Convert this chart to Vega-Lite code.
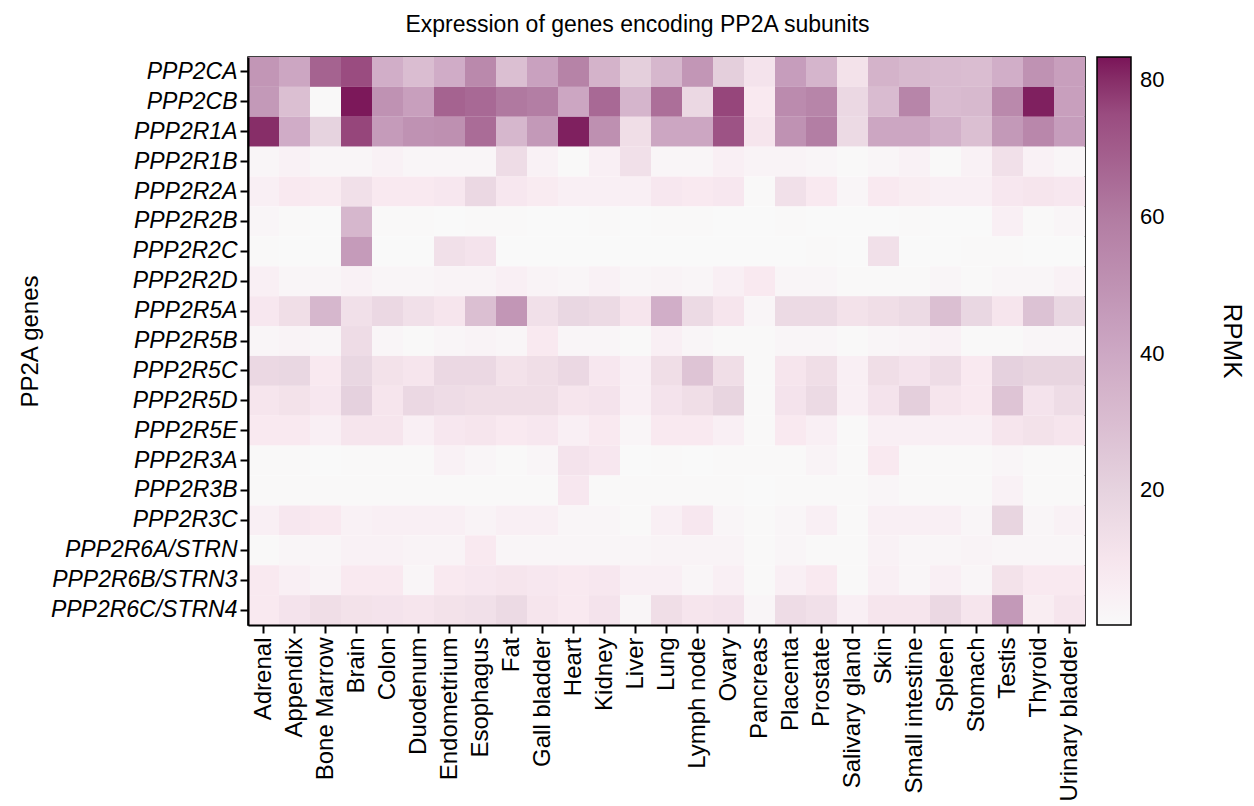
{
"$schema": "https://vega.github.io/schema/vega-lite/v6.json",
"autosize": {"type": "none"},
"padding": {"left": 248, "top": 57, "right": 169, "bottom": 181},
"width": 837,
"height": 568,
"title": {"text": "Expression of genes encoding PP2A subunits", "fontSize": 23, "fontWeight": "normal", "font": "Liberation Sans", "color": "black", "baseline": "alphabetic", "offset": 25, "dx": -29, "dy": 23},
"config": {"font": "Liberation Sans", "view": {"stroke": "black", "strokeWidth": 1.5}},
"data": {"values": [
{"gene":"PPP2CA","tissue":"Adrenal","rpmk":48},{"gene":"PPP2CA","tissue":"Appendix","rpmk":41},{"gene":"PPP2CA","tissue":"Bone Marrow","rpmk":68},{"gene":"PPP2CA","tissue":"Brain","rpmk":75},{"gene":"PPP2CA","tissue":"Colon","rpmk":37},{"gene":"PPP2CA","tissue":"Duodenum","rpmk":30},{"gene":"PPP2CA","tissue":"Endometrium","rpmk":38},{"gene":"PPP2CA","tissue":"Esophagus","rpmk":54},{"gene":"PPP2CA","tissue":"Fat","rpmk":29},{"gene":"PPP2CA","tissue":"Gall bladder","rpmk":43},{"gene":"PPP2CA","tissue":"Heart","rpmk":57},{"gene":"PPP2CA","tissue":"Kidney","rpmk":35},{"gene":"PPP2CA","tissue":"Liver","rpmk":22},{"gene":"PPP2CA","tissue":"Lung","rpmk":33},{"gene":"PPP2CA","tissue":"Lymph node","rpmk":48},{"gene":"PPP2CA","tissue":"Ovary","rpmk":22},{"gene":"PPP2CA","tissue":"Pancreas","rpmk":11},{"gene":"PPP2CA","tissue":"Placenta","rpmk":45},{"gene":"PPP2CA","tissue":"Prostate","rpmk":34},{"gene":"PPP2CA","tissue":"Salivary gland","rpmk":12},{"gene":"PPP2CA","tissue":"Skin","rpmk":35},{"gene":"PPP2CA","tissue":"Small intestine","rpmk":32},{"gene":"PPP2CA","tissue":"Spleen","rpmk":31},{"gene":"PPP2CA","tissue":"Stomach","rpmk":30},{"gene":"PPP2CA","tissue":"Testis","rpmk":37},{"gene":"PPP2CA","tissue":"Thyroid","rpmk":50},{"gene":"PPP2CA","tissue":"Urinary bladder","rpmk":44},
{"gene":"PPP2CB","tissue":"Adrenal","rpmk":47},{"gene":"PPP2CB","tissue":"Appendix","rpmk":29},{"gene":"PPP2CB","tissue":"Bone Marrow","rpmk":1},{"gene":"PPP2CB","tissue":"Brain","rpmk":83},{"gene":"PPP2CB","tissue":"Colon","rpmk":50},{"gene":"PPP2CB","tissue":"Duodenum","rpmk":44},{"gene":"PPP2CB","tissue":"Endometrium","rpmk":68},{"gene":"PPP2CB","tissue":"Esophagus","rpmk":66},{"gene":"PPP2CB","tissue":"Fat","rpmk":61},{"gene":"PPP2CB","tissue":"Gall bladder","rpmk":59},{"gene":"PPP2CB","tissue":"Heart","rpmk":41},{"gene":"PPP2CB","tissue":"Kidney","rpmk":66},{"gene":"PPP2CB","tissue":"Liver","rpmk":34},{"gene":"PPP2CB","tissue":"Lung","rpmk":64},{"gene":"PPP2CB","tissue":"Lymph node","rpmk":17},{"gene":"PPP2CB","tissue":"Ovary","rpmk":76},{"gene":"PPP2CB","tissue":"Pancreas","rpmk":8},{"gene":"PPP2CB","tissue":"Placenta","rpmk":53},{"gene":"PPP2CB","tissue":"Prostate","rpmk":56},{"gene":"PPP2CB","tissue":"Salivary gland","rpmk":17},{"gene":"PPP2CB","tissue":"Skin","rpmk":31},{"gene":"PPP2CB","tissue":"Small intestine","rpmk":56},{"gene":"PPP2CB","tissue":"Spleen","rpmk":31},{"gene":"PPP2CB","tissue":"Stomach","rpmk":32},{"gene":"PPP2CB","tissue":"Testis","rpmk":54},{"gene":"PPP2CB","tissue":"Thyroid","rpmk":82},{"gene":"PPP2CB","tissue":"Urinary bladder","rpmk":44},
{"gene":"PPP2R1A","tissue":"Adrenal","rpmk":80},{"gene":"PPP2R1A","tissue":"Appendix","rpmk":38},{"gene":"PPP2R1A","tissue":"Bone Marrow","rpmk":20},{"gene":"PPP2R1A","tissue":"Brain","rpmk":76},{"gene":"PPP2R1A","tissue":"Colon","rpmk":46},{"gene":"PPP2R1A","tissue":"Duodenum","rpmk":50},{"gene":"PPP2R1A","tissue":"Endometrium","rpmk":51},{"gene":"PPP2R1A","tissue":"Esophagus","rpmk":65},{"gene":"PPP2R1A","tissue":"Fat","rpmk":33},{"gene":"PPP2R1A","tissue":"Gall bladder","rpmk":47},{"gene":"PPP2R1A","tissue":"Heart","rpmk":82},{"gene":"PPP2R1A","tissue":"Kidney","rpmk":51},{"gene":"PPP2R1A","tissue":"Liver","rpmk":14},{"gene":"PPP2R1A","tissue":"Lung","rpmk":41},{"gene":"PPP2R1A","tissue":"Lymph node","rpmk":41},{"gene":"PPP2R1A","tissue":"Ovary","rpmk":73},{"gene":"PPP2R1A","tissue":"Pancreas","rpmk":10},{"gene":"PPP2R1A","tissue":"Placenta","rpmk":50},{"gene":"PPP2R1A","tissue":"Prostate","rpmk":59},{"gene":"PPP2R1A","tissue":"Salivary gland","rpmk":16},{"gene":"PPP2R1A","tissue":"Skin","rpmk":41},{"gene":"PPP2R1A","tissue":"Small intestine","rpmk":41},{"gene":"PPP2R1A","tissue":"Spleen","rpmk":36},{"gene":"PPP2R1A","tissue":"Stomach","rpmk":29},{"gene":"PPP2R1A","tissue":"Testis","rpmk":47},{"gene":"PPP2R1A","tissue":"Thyroid","rpmk":55},{"gene":"PPP2R1A","tissue":"Urinary bladder","rpmk":45},
{"gene":"PPP2R1B","tissue":"Adrenal","rpmk":2},{"gene":"PPP2R1B","tissue":"Appendix","rpmk":4},{"gene":"PPP2R1B","tissue":"Bone Marrow","rpmk":2},{"gene":"PPP2R1B","tissue":"Brain","rpmk":2},{"gene":"PPP2R1B","tissue":"Colon","rpmk":4},{"gene":"PPP2R1B","tissue":"Duodenum","rpmk":2},{"gene":"PPP2R1B","tissue":"Endometrium","rpmk":2},{"gene":"PPP2R1B","tissue":"Esophagus","rpmk":2},{"gene":"PPP2R1B","tissue":"Fat","rpmk":15},{"gene":"PPP2R1B","tissue":"Gall bladder","rpmk":4},{"gene":"PPP2R1B","tissue":"Heart","rpmk":1},{"gene":"PPP2R1B","tissue":"Kidney","rpmk":5},{"gene":"PPP2R1B","tissue":"Liver","rpmk":13},{"gene":"PPP2R1B","tissue":"Lung","rpmk":2},{"gene":"PPP2R1B","tissue":"Lymph node","rpmk":2},{"gene":"PPP2R1B","tissue":"Ovary","rpmk":5},{"gene":"PPP2R1B","tissue":"Pancreas","rpmk":3},{"gene":"PPP2R1B","tissue":"Placenta","rpmk":3},{"gene":"PPP2R1B","tissue":"Prostate","rpmk":2},{"gene":"PPP2R1B","tissue":"Salivary gland","rpmk":1},{"gene":"PPP2R1B","tissue":"Skin","rpmk":2},{"gene":"PPP2R1B","tissue":"Small intestine","rpmk":4},{"gene":"PPP2R1B","tissue":"Spleen","rpmk":1},{"gene":"PPP2R1B","tissue":"Stomach","rpmk":4},{"gene":"PPP2R1B","tissue":"Testis","rpmk":13},{"gene":"PPP2R1B","tissue":"Thyroid","rpmk":4},{"gene":"PPP2R1B","tissue":"Urinary bladder","rpmk":2},
{"gene":"PPP2R2A","tissue":"Adrenal","rpmk":5},{"gene":"PPP2R2A","tissue":"Appendix","rpmk":8},{"gene":"PPP2R2A","tissue":"Bone Marrow","rpmk":7},{"gene":"PPP2R2A","tissue":"Brain","rpmk":13},{"gene":"PPP2R2A","tissue":"Colon","rpmk":8},{"gene":"PPP2R2A","tissue":"Duodenum","rpmk":8},{"gene":"PPP2R2A","tissue":"Endometrium","rpmk":9},{"gene":"PPP2R2A","tissue":"Esophagus","rpmk":17},{"gene":"PPP2R2A","tissue":"Fat","rpmk":9},{"gene":"PPP2R2A","tissue":"Gall bladder","rpmk":7},{"gene":"PPP2R2A","tissue":"Heart","rpmk":5},{"gene":"PPP2R2A","tissue":"Kidney","rpmk":5},{"gene":"PPP2R2A","tissue":"Liver","rpmk":5},{"gene":"PPP2R2A","tissue":"Lung","rpmk":9},{"gene":"PPP2R2A","tissue":"Lymph node","rpmk":8},{"gene":"PPP2R2A","tissue":"Ovary","rpmk":9},{"gene":"PPP2R2A","tissue":"Pancreas","rpmk":1},{"gene":"PPP2R2A","tissue":"Placenta","rpmk":13},{"gene":"PPP2R2A","tissue":"Prostate","rpmk":8},{"gene":"PPP2R2A","tissue":"Salivary gland","rpmk":2},{"gene":"PPP2R2A","tissue":"Skin","rpmk":8},{"gene":"PPP2R2A","tissue":"Small intestine","rpmk":6},{"gene":"PPP2R2A","tissue":"Spleen","rpmk":5},{"gene":"PPP2R2A","tissue":"Stomach","rpmk":5},{"gene":"PPP2R2A","tissue":"Testis","rpmk":9},{"gene":"PPP2R2A","tissue":"Thyroid","rpmk":10},{"gene":"PPP2R2A","tissue":"Urinary bladder","rpmk":9},
{"gene":"PPP2R2B","tissue":"Adrenal","rpmk":2},{"gene":"PPP2R2B","tissue":"Appendix","rpmk":1},{"gene":"PPP2R2B","tissue":"Bone Marrow","rpmk":0.3},{"gene":"PPP2R2B","tissue":"Brain","rpmk":33},{"gene":"PPP2R2B","tissue":"Colon","rpmk":1},{"gene":"PPP2R2B","tissue":"Duodenum","rpmk":1},{"gene":"PPP2R2B","tissue":"Endometrium","rpmk":0.3},{"gene":"PPP2R2B","tissue":"Esophagus","rpmk":1},{"gene":"PPP2R2B","tissue":"Fat","rpmk":1},{"gene":"PPP2R2B","tissue":"Gall bladder","rpmk":0.3},{"gene":"PPP2R2B","tissue":"Heart","rpmk":0.3},{"gene":"PPP2R2B","tissue":"Kidney","rpmk":1},{"gene":"PPP2R2B","tissue":"Liver","rpmk":0.3},{"gene":"PPP2R2B","tissue":"Lung","rpmk":1},{"gene":"PPP2R2B","tissue":"Lymph node","rpmk":1},{"gene":"PPP2R2B","tissue":"Ovary","rpmk":0.3},{"gene":"PPP2R2B","tissue":"Pancreas","rpmk":0.3},{"gene":"PPP2R2B","tissue":"Placenta","rpmk":1},{"gene":"PPP2R2B","tissue":"Prostate","rpmk":0.3},{"gene":"PPP2R2B","tissue":"Salivary gland","rpmk":0.3},{"gene":"PPP2R2B","tissue":"Skin","rpmk":0.3},{"gene":"PPP2R2B","tissue":"Small intestine","rpmk":1},{"gene":"PPP2R2B","tissue":"Spleen","rpmk":0.3},{"gene":"PPP2R2B","tissue":"Stomach","rpmk":0.3},{"gene":"PPP2R2B","tissue":"Testis","rpmk":5},{"gene":"PPP2R2B","tissue":"Thyroid","rpmk":1},{"gene":"PPP2R2B","tissue":"Urinary bladder","rpmk":2},
{"gene":"PPP2R2C","tissue":"Adrenal","rpmk":1},{"gene":"PPP2R2C","tissue":"Appendix","rpmk":0.3},{"gene":"PPP2R2C","tissue":"Bone Marrow","rpmk":0.3},{"gene":"PPP2R2C","tissue":"Brain","rpmk":46},{"gene":"PPP2R2C","tissue":"Colon","rpmk":0.3},{"gene":"PPP2R2C","tissue":"Duodenum","rpmk":0.3},{"gene":"PPP2R2C","tissue":"Endometrium","rpmk":13},{"gene":"PPP2R2C","tissue":"Esophagus","rpmk":11},{"gene":"PPP2R2C","tissue":"Fat","rpmk":0.3},{"gene":"PPP2R2C","tissue":"Gall bladder","rpmk":0.3},{"gene":"PPP2R2C","tissue":"Heart","rpmk":0.3},{"gene":"PPP2R2C","tissue":"Kidney","rpmk":0.3},{"gene":"PPP2R2C","tissue":"Liver","rpmk":0.3},{"gene":"PPP2R2C","tissue":"Lung","rpmk":0.3},{"gene":"PPP2R2C","tissue":"Lymph node","rpmk":0.3},{"gene":"PPP2R2C","tissue":"Ovary","rpmk":0.3},{"gene":"PPP2R2C","tissue":"Pancreas","rpmk":0.3},{"gene":"PPP2R2C","tissue":"Placenta","rpmk":0.3},{"gene":"PPP2R2C","tissue":"Prostate","rpmk":1},{"gene":"PPP2R2C","tissue":"Salivary gland","rpmk":0.3},{"gene":"PPP2R2C","tissue":"Skin","rpmk":13},{"gene":"PPP2R2C","tissue":"Small intestine","rpmk":0.5},{"gene":"PPP2R2C","tissue":"Spleen","rpmk":0.3},{"gene":"PPP2R2C","tissue":"Stomach","rpmk":1},{"gene":"PPP2R2C","tissue":"Testis","rpmk":1},{"gene":"PPP2R2C","tissue":"Thyroid","rpmk":0.3},{"gene":"PPP2R2C","tissue":"Urinary bladder","rpmk":0.3},
{"gene":"PPP2R2D","tissue":"Adrenal","rpmk":5},{"gene":"PPP2R2D","tissue":"Appendix","rpmk":2},{"gene":"PPP2R2D","tissue":"Bone Marrow","rpmk":2},{"gene":"PPP2R2D","tissue":"Brain","rpmk":4},{"gene":"PPP2R2D","tissue":"Colon","rpmk":2},{"gene":"PPP2R2D","tissue":"Duodenum","rpmk":2},{"gene":"PPP2R2D","tissue":"Endometrium","rpmk":3},{"gene":"PPP2R2D","tissue":"Esophagus","rpmk":3},{"gene":"PPP2R2D","tissue":"Fat","rpmk":5},{"gene":"PPP2R2D","tissue":"Gall bladder","rpmk":3},{"gene":"PPP2R2D","tissue":"Heart","rpmk":2},{"gene":"PPP2R2D","tissue":"Kidney","rpmk":4},{"gene":"PPP2R2D","tissue":"Liver","rpmk":2},{"gene":"PPP2R2D","tissue":"Lung","rpmk":3},{"gene":"PPP2R2D","tissue":"Lymph node","rpmk":2},{"gene":"PPP2R2D","tissue":"Ovary","rpmk":5},{"gene":"PPP2R2D","tissue":"Pancreas","rpmk":8},{"gene":"PPP2R2D","tissue":"Placenta","rpmk":2},{"gene":"PPP2R2D","tissue":"Prostate","rpmk":2},{"gene":"PPP2R2D","tissue":"Salivary gland","rpmk":1},{"gene":"PPP2R2D","tissue":"Skin","rpmk":1},{"gene":"PPP2R2D","tissue":"Small intestine","rpmk":1},{"gene":"PPP2R2D","tissue":"Spleen","rpmk":2},{"gene":"PPP2R2D","tissue":"Stomach","rpmk":1},{"gene":"PPP2R2D","tissue":"Testis","rpmk":2},{"gene":"PPP2R2D","tissue":"Thyroid","rpmk":2},{"gene":"PPP2R2D","tissue":"Urinary bladder","rpmk":4},
{"gene":"PPP2R5A","tissue":"Adrenal","rpmk":9},{"gene":"PPP2R5A","tissue":"Appendix","rpmk":14},{"gene":"PPP2R5A","tissue":"Bone Marrow","rpmk":33},{"gene":"PPP2R5A","tissue":"Brain","rpmk":13},{"gene":"PPP2R5A","tissue":"Colon","rpmk":17},{"gene":"PPP2R5A","tissue":"Duodenum","rpmk":13},{"gene":"PPP2R5A","tissue":"Endometrium","rpmk":10},{"gene":"PPP2R5A","tissue":"Esophagus","rpmk":29},{"gene":"PPP2R5A","tissue":"Fat","rpmk":48},{"gene":"PPP2R5A","tissue":"Gall bladder","rpmk":13},{"gene":"PPP2R5A","tissue":"Heart","rpmk":18},{"gene":"PPP2R5A","tissue":"Kidney","rpmk":16},{"gene":"PPP2R5A","tissue":"Liver","rpmk":10},{"gene":"PPP2R5A","tissue":"Lung","rpmk":37},{"gene":"PPP2R5A","tissue":"Lymph node","rpmk":16},{"gene":"PPP2R5A","tissue":"Ovary","rpmk":10},{"gene":"PPP2R5A","tissue":"Pancreas","rpmk":2},{"gene":"PPP2R5A","tissue":"Placenta","rpmk":16},{"gene":"PPP2R5A","tissue":"Prostate","rpmk":16},{"gene":"PPP2R5A","tissue":"Salivary gland","rpmk":12},{"gene":"PPP2R5A","tissue":"Skin","rpmk":14},{"gene":"PPP2R5A","tissue":"Small intestine","rpmk":16},{"gene":"PPP2R5A","tissue":"Spleen","rpmk":29},{"gene":"PPP2R5A","tissue":"Stomach","rpmk":18},{"gene":"PPP2R5A","tissue":"Testis","rpmk":10},{"gene":"PPP2R5A","tissue":"Thyroid","rpmk":28},{"gene":"PPP2R5A","tissue":"Urinary bladder","rpmk":18},
{"gene":"PPP2R5B","tissue":"Adrenal","rpmk":2},{"gene":"PPP2R5B","tissue":"Appendix","rpmk":3},{"gene":"PPP2R5B","tissue":"Bone Marrow","rpmk":2},{"gene":"PPP2R5B","tissue":"Brain","rpmk":15},{"gene":"PPP2R5B","tissue":"Colon","rpmk":2},{"gene":"PPP2R5B","tissue":"Duodenum","rpmk":1},{"gene":"PPP2R5B","tissue":"Endometrium","rpmk":2},{"gene":"PPP2R5B","tissue":"Esophagus","rpmk":3},{"gene":"PPP2R5B","tissue":"Fat","rpmk":2},{"gene":"PPP2R5B","tissue":"Gall bladder","rpmk":8},{"gene":"PPP2R5B","tissue":"Heart","rpmk":2},{"gene":"PPP2R5B","tissue":"Kidney","rpmk":2},{"gene":"PPP2R5B","tissue":"Liver","rpmk":1},{"gene":"PPP2R5B","tissue":"Lung","rpmk":5},{"gene":"PPP2R5B","tissue":"Lymph node","rpmk":2},{"gene":"PPP2R5B","tissue":"Ovary","rpmk":1},{"gene":"PPP2R5B","tissue":"Pancreas","rpmk":1},{"gene":"PPP2R5B","tissue":"Placenta","rpmk":2},{"gene":"PPP2R5B","tissue":"Prostate","rpmk":2},{"gene":"PPP2R5B","tissue":"Salivary gland","rpmk":1},{"gene":"PPP2R5B","tissue":"Skin","rpmk":2},{"gene":"PPP2R5B","tissue":"Small intestine","rpmk":3},{"gene":"PPP2R5B","tissue":"Spleen","rpmk":4},{"gene":"PPP2R5B","tissue":"Stomach","rpmk":1},{"gene":"PPP2R5B","tissue":"Testis","rpmk":1},{"gene":"PPP2R5B","tissue":"Thyroid","rpmk":2},{"gene":"PPP2R5B","tissue":"Urinary bladder","rpmk":2},
{"gene":"PPP2R5C","tissue":"Adrenal","rpmk":17},{"gene":"PPP2R5C","tissue":"Appendix","rpmk":18},{"gene":"PPP2R5C","tissue":"Bone Marrow","rpmk":8},{"gene":"PPP2R5C","tissue":"Brain","rpmk":18},{"gene":"PPP2R5C","tissue":"Colon","rpmk":12},{"gene":"PPP2R5C","tissue":"Duodenum","rpmk":10},{"gene":"PPP2R5C","tissue":"Endometrium","rpmk":17},{"gene":"PPP2R5C","tissue":"Esophagus","rpmk":17},{"gene":"PPP2R5C","tissue":"Fat","rpmk":12},{"gene":"PPP2R5C","tissue":"Gall bladder","rpmk":14},{"gene":"PPP2R5C","tissue":"Heart","rpmk":17},{"gene":"PPP2R5C","tissue":"Kidney","rpmk":9},{"gene":"PPP2R5C","tissue":"Liver","rpmk":5},{"gene":"PPP2R5C","tissue":"Lung","rpmk":14},{"gene":"PPP2R5C","tissue":"Lymph node","rpmk":27},{"gene":"PPP2R5C","tissue":"Ovary","rpmk":14},{"gene":"PPP2R5C","tissue":"Pancreas","rpmk":1},{"gene":"PPP2R5C","tissue":"Placenta","rpmk":10},{"gene":"PPP2R5C","tissue":"Prostate","rpmk":14},{"gene":"PPP2R5C","tissue":"Salivary gland","rpmk":5},{"gene":"PPP2R5C","tissue":"Skin","rpmk":14},{"gene":"PPP2R5C","tissue":"Small intestine","rpmk":11},{"gene":"PPP2R5C","tissue":"Spleen","rpmk":15},{"gene":"PPP2R5C","tissue":"Stomach","rpmk":8},{"gene":"PPP2R5C","tissue":"Testis","rpmk":21},{"gene":"PPP2R5C","tissue":"Thyroid","rpmk":19},{"gene":"PPP2R5C","tissue":"Urinary bladder","rpmk":19},
{"gene":"PPP2R5D","tissue":"Adrenal","rpmk":10},{"gene":"PPP2R5D","tissue":"Appendix","rpmk":12},{"gene":"PPP2R5D","tissue":"Bone Marrow","rpmk":9},{"gene":"PPP2R5D","tissue":"Brain","rpmk":21},{"gene":"PPP2R5D","tissue":"Colon","rpmk":10},{"gene":"PPP2R5D","tissue":"Duodenum","rpmk":17},{"gene":"PPP2R5D","tissue":"Endometrium","rpmk":15},{"gene":"PPP2R5D","tissue":"Esophagus","rpmk":14},{"gene":"PPP2R5D","tissue":"Fat","rpmk":14},{"gene":"PPP2R5D","tissue":"Gall bladder","rpmk":14},{"gene":"PPP2R5D","tissue":"Heart","rpmk":10},{"gene":"PPP2R5D","tissue":"Kidney","rpmk":11},{"gene":"PPP2R5D","tissue":"Liver","rpmk":5},{"gene":"PPP2R5D","tissue":"Lung","rpmk":11},{"gene":"PPP2R5D","tissue":"Lymph node","rpmk":14},{"gene":"PPP2R5D","tissue":"Ovary","rpmk":19},{"gene":"PPP2R5D","tissue":"Pancreas","rpmk":1},{"gene":"PPP2R5D","tissue":"Placenta","rpmk":11},{"gene":"PPP2R5D","tissue":"Prostate","rpmk":16},{"gene":"PPP2R5D","tissue":"Salivary gland","rpmk":5},{"gene":"PPP2R5D","tissue":"Skin","rpmk":11},{"gene":"PPP2R5D","tissue":"Small intestine","rpmk":22},{"gene":"PPP2R5D","tissue":"Spleen","rpmk":10},{"gene":"PPP2R5D","tissue":"Stomach","rpmk":8},{"gene":"PPP2R5D","tissue":"Testis","rpmk":27},{"gene":"PPP2R5D","tissue":"Thyroid","rpmk":11},{"gene":"PPP2R5D","tissue":"Urinary bladder","rpmk":15},
{"gene":"PPP2R5E","tissue":"Adrenal","rpmk":8},{"gene":"PPP2R5E","tissue":"Appendix","rpmk":8},{"gene":"PPP2R5E","tissue":"Bone Marrow","rpmk":5},{"gene":"PPP2R5E","tissue":"Brain","rpmk":10},{"gene":"PPP2R5E","tissue":"Colon","rpmk":10},{"gene":"PPP2R5E","tissue":"Duodenum","rpmk":5},{"gene":"PPP2R5E","tissue":"Endometrium","rpmk":9},{"gene":"PPP2R5E","tissue":"Esophagus","rpmk":10},{"gene":"PPP2R5E","tissue":"Fat","rpmk":8},{"gene":"PPP2R5E","tissue":"Gall bladder","rpmk":9},{"gene":"PPP2R5E","tissue":"Heart","rpmk":5},{"gene":"PPP2R5E","tissue":"Kidney","rpmk":8},{"gene":"PPP2R5E","tissue":"Liver","rpmk":2},{"gene":"PPP2R5E","tissue":"Lung","rpmk":8},{"gene":"PPP2R5E","tissue":"Lymph node","rpmk":8},{"gene":"PPP2R5E","tissue":"Ovary","rpmk":5},{"gene":"PPP2R5E","tissue":"Pancreas","rpmk":1},{"gene":"PPP2R5E","tissue":"Placenta","rpmk":8},{"gene":"PPP2R5E","tissue":"Prostate","rpmk":5},{"gene":"PPP2R5E","tissue":"Salivary gland","rpmk":1},{"gene":"PPP2R5E","tissue":"Skin","rpmk":5},{"gene":"PPP2R5E","tissue":"Small intestine","rpmk":5},{"gene":"PPP2R5E","tissue":"Spleen","rpmk":5},{"gene":"PPP2R5E","tissue":"Stomach","rpmk":5},{"gene":"PPP2R5E","tissue":"Testis","rpmk":10},{"gene":"PPP2R5E","tissue":"Thyroid","rpmk":12},{"gene":"PPP2R5E","tissue":"Urinary bladder","rpmk":10},
{"gene":"PPP2R3A","tissue":"Adrenal","rpmk":1},{"gene":"PPP2R3A","tissue":"Appendix","rpmk":1},{"gene":"PPP2R3A","tissue":"Bone Marrow","rpmk":0.3},{"gene":"PPP2R3A","tissue":"Brain","rpmk":1},{"gene":"PPP2R3A","tissue":"Colon","rpmk":1},{"gene":"PPP2R3A","tissue":"Duodenum","rpmk":1},{"gene":"PPP2R3A","tissue":"Endometrium","rpmk":4},{"gene":"PPP2R3A","tissue":"Esophagus","rpmk":2},{"gene":"PPP2R3A","tissue":"Fat","rpmk":1},{"gene":"PPP2R3A","tissue":"Gall bladder","rpmk":2},{"gene":"PPP2R3A","tissue":"Heart","rpmk":11},{"gene":"PPP2R3A","tissue":"Kidney","rpmk":9},{"gene":"PPP2R3A","tissue":"Liver","rpmk":0.3},{"gene":"PPP2R3A","tissue":"Lung","rpmk":1},{"gene":"PPP2R3A","tissue":"Lymph node","rpmk":0.3},{"gene":"PPP2R3A","tissue":"Ovary","rpmk":1},{"gene":"PPP2R3A","tissue":"Pancreas","rpmk":1},{"gene":"PPP2R3A","tissue":"Placenta","rpmk":1},{"gene":"PPP2R3A","tissue":"Prostate","rpmk":3},{"gene":"PPP2R3A","tissue":"Salivary gland","rpmk":1},{"gene":"PPP2R3A","tissue":"Skin","rpmk":8},{"gene":"PPP2R3A","tissue":"Small intestine","rpmk":1},{"gene":"PPP2R3A","tissue":"Spleen","rpmk":1},{"gene":"PPP2R3A","tissue":"Stomach","rpmk":1},{"gene":"PPP2R3A","tissue":"Testis","rpmk":2},{"gene":"PPP2R3A","tissue":"Thyroid","rpmk":1},{"gene":"PPP2R3A","tissue":"Urinary bladder","rpmk":1},
{"gene":"PPP2R3B","tissue":"Adrenal","rpmk":1},{"gene":"PPP2R3B","tissue":"Appendix","rpmk":1},{"gene":"PPP2R3B","tissue":"Bone Marrow","rpmk":1},{"gene":"PPP2R3B","tissue":"Brain","rpmk":1},{"gene":"PPP2R3B","tissue":"Colon","rpmk":1},{"gene":"PPP2R3B","tissue":"Duodenum","rpmk":1},{"gene":"PPP2R3B","tissue":"Endometrium","rpmk":1},{"gene":"PPP2R3B","tissue":"Esophagus","rpmk":1},{"gene":"PPP2R3B","tissue":"Fat","rpmk":1},{"gene":"PPP2R3B","tissue":"Gall bladder","rpmk":1},{"gene":"PPP2R3B","tissue":"Heart","rpmk":9},{"gene":"PPP2R3B","tissue":"Kidney","rpmk":1},{"gene":"PPP2R3B","tissue":"Liver","rpmk":1},{"gene":"PPP2R3B","tissue":"Lung","rpmk":1},{"gene":"PPP2R3B","tissue":"Lymph node","rpmk":1},{"gene":"PPP2R3B","tissue":"Ovary","rpmk":1},{"gene":"PPP2R3B","tissue":"Pancreas","rpmk":0.3},{"gene":"PPP2R3B","tissue":"Placenta","rpmk":1},{"gene":"PPP2R3B","tissue":"Prostate","rpmk":1},{"gene":"PPP2R3B","tissue":"Salivary gland","rpmk":1},{"gene":"PPP2R3B","tissue":"Skin","rpmk":2},{"gene":"PPP2R3B","tissue":"Small intestine","rpmk":1},{"gene":"PPP2R3B","tissue":"Spleen","rpmk":1},{"gene":"PPP2R3B","tissue":"Stomach","rpmk":1},{"gene":"PPP2R3B","tissue":"Testis","rpmk":4},{"gene":"PPP2R3B","tissue":"Thyroid","rpmk":1},{"gene":"PPP2R3B","tissue":"Urinary bladder","rpmk":1},
{"gene":"PPP2R3C","tissue":"Adrenal","rpmk":5},{"gene":"PPP2R3C","tissue":"Appendix","rpmk":9},{"gene":"PPP2R3C","tissue":"Bone Marrow","rpmk":8},{"gene":"PPP2R3C","tissue":"Brain","rpmk":4},{"gene":"PPP2R3C","tissue":"Colon","rpmk":5},{"gene":"PPP2R3C","tissue":"Duodenum","rpmk":5},{"gene":"PPP2R3C","tissue":"Endometrium","rpmk":5},{"gene":"PPP2R3C","tissue":"Esophagus","rpmk":3},{"gene":"PPP2R3C","tissue":"Fat","rpmk":5},{"gene":"PPP2R3C","tissue":"Gall bladder","rpmk":5},{"gene":"PPP2R3C","tissue":"Heart","rpmk":2},{"gene":"PPP2R3C","tissue":"Kidney","rpmk":2},{"gene":"PPP2R3C","tissue":"Liver","rpmk":1},{"gene":"PPP2R3C","tissue":"Lung","rpmk":5},{"gene":"PPP2R3C","tissue":"Lymph node","rpmk":9},{"gene":"PPP2R3C","tissue":"Ovary","rpmk":2},{"gene":"PPP2R3C","tissue":"Pancreas","rpmk":1},{"gene":"PPP2R3C","tissue":"Placenta","rpmk":2},{"gene":"PPP2R3C","tissue":"Prostate","rpmk":5},{"gene":"PPP2R3C","tissue":"Salivary gland","rpmk":1},{"gene":"PPP2R3C","tissue":"Skin","rpmk":5},{"gene":"PPP2R3C","tissue":"Small intestine","rpmk":5},{"gene":"PPP2R3C","tissue":"Spleen","rpmk":5},{"gene":"PPP2R3C","tissue":"Stomach","rpmk":2},{"gene":"PPP2R3C","tissue":"Testis","rpmk":19},{"gene":"PPP2R3C","tissue":"Thyroid","rpmk":2},{"gene":"PPP2R3C","tissue":"Urinary bladder","rpmk":4},
{"gene":"PPP2R6A/STRN","tissue":"Adrenal","rpmk":1},{"gene":"PPP2R6A/STRN","tissue":"Appendix","rpmk":2},{"gene":"PPP2R6A/STRN","tissue":"Bone Marrow","rpmk":2},{"gene":"PPP2R6A/STRN","tissue":"Brain","rpmk":4},{"gene":"PPP2R6A/STRN","tissue":"Colon","rpmk":4},{"gene":"PPP2R6A/STRN","tissue":"Duodenum","rpmk":3},{"gene":"PPP2R6A/STRN","tissue":"Endometrium","rpmk":3},{"gene":"PPP2R6A/STRN","tissue":"Esophagus","rpmk":8},{"gene":"PPP2R6A/STRN","tissue":"Fat","rpmk":2},{"gene":"PPP2R6A/STRN","tissue":"Gall bladder","rpmk":2},{"gene":"PPP2R6A/STRN","tissue":"Heart","rpmk":2},{"gene":"PPP2R6A/STRN","tissue":"Kidney","rpmk":2},{"gene":"PPP2R6A/STRN","tissue":"Liver","rpmk":2},{"gene":"PPP2R6A/STRN","tissue":"Lung","rpmk":3},{"gene":"PPP2R6A/STRN","tissue":"Lymph node","rpmk":3},{"gene":"PPP2R6A/STRN","tissue":"Ovary","rpmk":3},{"gene":"PPP2R6A/STRN","tissue":"Pancreas","rpmk":1},{"gene":"PPP2R6A/STRN","tissue":"Placenta","rpmk":2},{"gene":"PPP2R6A/STRN","tissue":"Prostate","rpmk":1},{"gene":"PPP2R6A/STRN","tissue":"Salivary gland","rpmk":1},{"gene":"PPP2R6A/STRN","tissue":"Skin","rpmk":4},{"gene":"PPP2R6A/STRN","tissue":"Small intestine","rpmk":2},{"gene":"PPP2R6A/STRN","tissue":"Spleen","rpmk":2},{"gene":"PPP2R6A/STRN","tissue":"Stomach","rpmk":3},{"gene":"PPP2R6A/STRN","tissue":"Testis","rpmk":2},{"gene":"PPP2R6A/STRN","tissue":"Thyroid","rpmk":2},{"gene":"PPP2R6A/STRN","tissue":"Urinary bladder","rpmk":2},
{"gene":"PPP2R6B/STRN3","tissue":"Adrenal","rpmk":8},{"gene":"PPP2R6B/STRN3","tissue":"Appendix","rpmk":5},{"gene":"PPP2R6B/STRN3","tissue":"Bone Marrow","rpmk":3},{"gene":"PPP2R6B/STRN3","tissue":"Brain","rpmk":8},{"gene":"PPP2R6B/STRN3","tissue":"Colon","rpmk":8},{"gene":"PPP2R6B/STRN3","tissue":"Duodenum","rpmk":2},{"gene":"PPP2R6B/STRN3","tissue":"Endometrium","rpmk":8},{"gene":"PPP2R6B/STRN3","tissue":"Esophagus","rpmk":9},{"gene":"PPP2R6B/STRN3","tissue":"Fat","rpmk":10},{"gene":"PPP2R6B/STRN3","tissue":"Gall bladder","rpmk":9},{"gene":"PPP2R6B/STRN3","tissue":"Heart","rpmk":8},{"gene":"PPP2R6B/STRN3","tissue":"Kidney","rpmk":9},{"gene":"PPP2R6B/STRN3","tissue":"Liver","rpmk":5},{"gene":"PPP2R6B/STRN3","tissue":"Lung","rpmk":5},{"gene":"PPP2R6B/STRN3","tissue":"Lymph node","rpmk":2},{"gene":"PPP2R6B/STRN3","tissue":"Ovary","rpmk":5},{"gene":"PPP2R6B/STRN3","tissue":"Pancreas","rpmk":1},{"gene":"PPP2R6B/STRN3","tissue":"Placenta","rpmk":5},{"gene":"PPP2R6B/STRN3","tissue":"Prostate","rpmk":8},{"gene":"PPP2R6B/STRN3","tissue":"Salivary gland","rpmk":1},{"gene":"PPP2R6B/STRN3","tissue":"Skin","rpmk":5},{"gene":"PPP2R6B/STRN3","tissue":"Small intestine","rpmk":2},{"gene":"PPP2R6B/STRN3","tissue":"Spleen","rpmk":5},{"gene":"PPP2R6B/STRN3","tissue":"Stomach","rpmk":2},{"gene":"PPP2R6B/STRN3","tissue":"Testis","rpmk":12},{"gene":"PPP2R6B/STRN3","tissue":"Thyroid","rpmk":8},{"gene":"PPP2R6B/STRN3","tissue":"Urinary bladder","rpmk":8},
{"gene":"PPP2R6C/STRN4","tissue":"Adrenal","rpmk":8},{"gene":"PPP2R6C/STRN4","tissue":"Appendix","rpmk":11},{"gene":"PPP2R6C/STRN4","tissue":"Bone Marrow","rpmk":14},{"gene":"PPP2R6C/STRN4","tissue":"Brain","rpmk":12},{"gene":"PPP2R6C/STRN4","tissue":"Colon","rpmk":11},{"gene":"PPP2R6C/STRN4","tissue":"Duodenum","rpmk":10},{"gene":"PPP2R6C/STRN4","tissue":"Endometrium","rpmk":12},{"gene":"PPP2R6C/STRN4","tissue":"Esophagus","rpmk":13},{"gene":"PPP2R6C/STRN4","tissue":"Fat","rpmk":16},{"gene":"PPP2R6C/STRN4","tissue":"Gall bladder","rpmk":10},{"gene":"PPP2R6C/STRN4","tissue":"Heart","rpmk":8},{"gene":"PPP2R6C/STRN4","tissue":"Kidney","rpmk":11},{"gene":"PPP2R6C/STRN4","tissue":"Liver","rpmk":2},{"gene":"PPP2R6C/STRN4","tissue":"Lung","rpmk":14},{"gene":"PPP2R6C/STRN4","tissue":"Lymph node","rpmk":10},{"gene":"PPP2R6C/STRN4","tissue":"Ovary","rpmk":11},{"gene":"PPP2R6C/STRN4","tissue":"Pancreas","rpmk":2},{"gene":"PPP2R6C/STRN4","tissue":"Placenta","rpmk":15},{"gene":"PPP2R6C/STRN4","tissue":"Prostate","rpmk":13},{"gene":"PPP2R6C/STRN4","tissue":"Salivary gland","rpmk":5},{"gene":"PPP2R6C/STRN4","tissue":"Skin","rpmk":10},{"gene":"PPP2R6C/STRN4","tissue":"Small intestine","rpmk":10},{"gene":"PPP2R6C/STRN4","tissue":"Spleen","rpmk":17},{"gene":"PPP2R6C/STRN4","tissue":"Stomach","rpmk":10},{"gene":"PPP2R6C/STRN4","tissue":"Testis","rpmk":47},{"gene":"PPP2R6C/STRN4","tissue":"Thyroid","rpmk":6},{"gene":"PPP2R6C/STRN4","tissue":"Urinary bladder","rpmk":10}
]},
"mark": {"type": "rect"},
"encoding": {
"x": {"field": "tissue", "type": "nominal",
"sort": ["Adrenal","Appendix","Bone Marrow","Brain","Colon","Duodenum","Endometrium","Esophagus","Fat","Gall bladder","Heart","Kidney","Liver","Lung","Lymph node","Ovary","Pancreas","Placenta","Prostate","Salivary gland","Skin","Small intestine","Spleen","Stomach","Testis","Thyroid","Urinary bladder"],
"scale": {"paddingInner": 0, "paddingOuter": 0},
"axis": {"title": null, "labelAngle": -90, "labelAlign": "right", "labelBaseline": "middle", "labelFontSize": 24, "labelColor": "black", "labelPadding": 4, "tickSize": 8, "tickWidth": 2, "tickColor": "black", "domainColor": "black", "domainWidth": 2, "labelLimit": 300}},
"y": {"field": "gene", "type": "nominal",
"sort": ["PPP2CA","PPP2CB","PPP2R1A","PPP2R1B","PPP2R2A","PPP2R2B","PPP2R2C","PPP2R2D","PPP2R5A","PPP2R5B","PPP2R5C","PPP2R5D","PPP2R5E","PPP2R3A","PPP2R3B","PPP2R3C","PPP2R6A/STRN","PPP2R6B/STRN3","PPP2R6C/STRN4"],
"scale": {"paddingInner": 0, "paddingOuter": 0},
"axis": {"title": "PP2A genes", "titleFontSize": 24, "titleFontWeight": "normal", "titleColor": "black", "titlePadding": 8, "labelFontSize": 23, "labelFontStyle": "italic", "labelColor": "black", "labelPadding": 3, "tickSize": 8, "tickWidth": 2, "tickColor": "black", "domainColor": "black", "domainWidth": 2, "labelLimit": 300}},
"color": {"field": "rpmk", "type": "quantitative",
"scale": {"domain": [0.3, 8, 20, 40, 60, 75, 83.4], "range": ["#f9f9f9", "#f9e9f0", "#e6d3df", "#cda8c4", "#b27ca2", "#9a4c80", "#7a1458"], "clamp": true},
"legend": {"title": "RPMK", "orient": "none", "legendX": 849, "legendY": 0, "padding": 0, "direction": "vertical", "gradientLength": 568, "gradientThickness": 34, "gradientStrokeColor": "black", "gradientStrokeWidth": 1.5, "values": [20, 40, 60, 80], "labelFontSize": 22, "labelColor": "black", "labelOffset": 9, "titleOrient": "right", "titleFontSize": 26, "titleFontWeight": "normal", "titleColor": "black", "titlePadding": 55, "titleAnchor": "middle", "encode": {"title": {"update": {"angle": {"value": 90}}}}}}
}
}
